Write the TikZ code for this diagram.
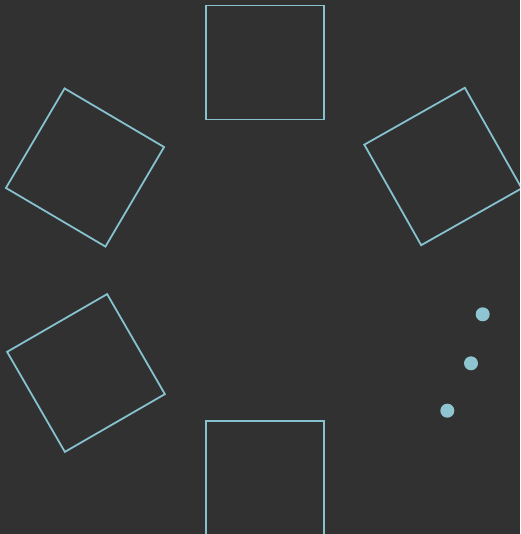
\documentclass[tikz,border=0pt]{standalone}
\definecolor{board}{HTML}{313131}
\definecolor{chalkblue}{HTML}{86C2CE}
\definecolor{dotblue}{HTML}{8EC5D1}
\begin{document}
\begin{tikzpicture}[x=1pt,y=-1pt,
  sq/.style={draw=chalkblue, line width=1.8pt, inner sep=0pt, minimum size=115.5pt, shape=rectangle},
  sqwide/.style={sq, minimum width=118pt, minimum height=114pt},
  dotnode/.style={fill=dotblue, circle, inner sep=0pt, minimum size=14pt}]
\fill[board] (0,0) rectangle (520,534);
\useasboundingbox (0,0) rectangle (520,534);
\clip (0,0) rectangle (520,534);
\node[sqwide] (s1) at (265,62.5) {};
\node[sq, rotate=-30.5] (s2) at (85,167.5) {};
\node[sq, rotate=29.5] (s3) at (443,166.5) {};
\node[sq, rotate=30] (s4) at (86,373) {};
\node[sqwide] (s5) at (265,478) {};
\node[dotnode] (d1) at (482.7,314.3) {};
\node[dotnode] (d2) at (471,363.3) {};
\node[dotnode] (d3) at (447.3,410.7) {};
\end{tikzpicture}
\end{document}
